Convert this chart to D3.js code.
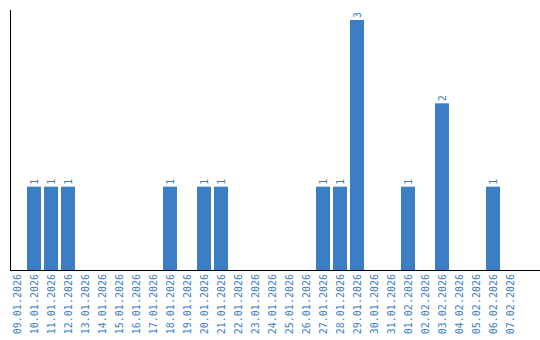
<!DOCTYPE html>
<html>
<head>
<meta charset="utf-8">
<script src="https://cdn.jsdelivr.net/npm/d3@7"></script>
<style>
body { margin: 0; background: #fff; }
</style>
</head>
<body>
<svg></svg>
<script>
let dates = ["09.01.2026","10.01.2026","11.01.2026","12.01.2026","13.01.2026","14.01.2026","15.01.2026","16.01.2026","17.01.2026","18.01.2026","19.01.2026","20.01.2026","21.01.2026","22.01.2026","23.01.2026","24.01.2026","25.01.2026","26.01.2026","27.01.2026","28.01.2026","29.01.2026","30.01.2026","31.01.2026","01.02.2026","02.02.2026","03.02.2026","04.02.2026","05.02.2026","06.02.2026","07.02.2026"];
let counts = [0,1,1,1,0,0,0,0,0,1,0,1,1,0,0,0,0,0,1,1,3,0,0,1,0,2,0,0,1,0];

let width = 540;
let height = 340;
let baseY = 270;
let topY = 10;
let blue = "#3b7ec3";

let svg = d3.select("svg").attr("width", width).attr("height", height);

let xScale = d3.scaleBand()
               .domain(dates)
               .range([7, 520])
               .padding(3 / 17);

let yScale = d3.scaleLinear()
               .domain([0, 3.12])
               .range([baseY, topY]);

let values = dates.map((d, i) => [d, counts[i]]);

// bars
svg.selectAll("rect")
   .data(values.filter(v => v[1] > 0))
   .enter()
   .append("rect")
   .attr("x", d => xScale(d[0]))
   .attr("y", d => yScale(d[1]))
   .attr("width", xScale.bandwidth())
   .attr("height", d => baseY - yScale(d[1]))
   .attr("fill", blue);

// value labels
svg.selectAll(".val")
   .data(values.filter(v => v[1] > 0))
   .enter()
   .append("text")
   .attr("class", "val")
   .attr("transform", d => "translate(" + (xScale(d[0]) + xScale.bandwidth() / 2) + "," + (yScale(d[1]) - 2) + ") rotate(-90)")
   .attr("dy", "0.35em")
   .attr("text-anchor", "start")
   .attr("font-family", "DejaVu Sans Mono")
   .attr("font-size", 10)
   .attr("fill", blue)
   .text(d => d[1]);

// axes
let xAxis = d3.axisBottom(xScale).tickSize(0).tickPadding(0);
let gx = svg.append("g")
   .attr("transform", "translate(0," + baseY + ")")
   .call(xAxis);
gx.select(".domain").remove();
gx.selectAll(".tick text")
  .attr("transform", "translate(0,4) rotate(-90)")
  .attr("text-anchor", "end")
  .attr("x", 0)
  .attr("y", 0)
  .attr("dy", "0.35em")
  .attr("font-family", "DejaVu Sans Mono")
  .attr("font-size", 10)
  .attr("fill", blue);

svg.append("line")
   .attr("x1", 10.5).attr("x2", 10.5)
   .attr("y1", topY).attr("y2", baseY + 0.5)
   .attr("stroke", "#000");
svg.append("line")
   .attr("x1", 10).attr("x2", width)
   .attr("y1", baseY + 0.5).attr("y2", baseY + 0.5)
   .attr("stroke", "#000");
</script>
</body>
</html>
